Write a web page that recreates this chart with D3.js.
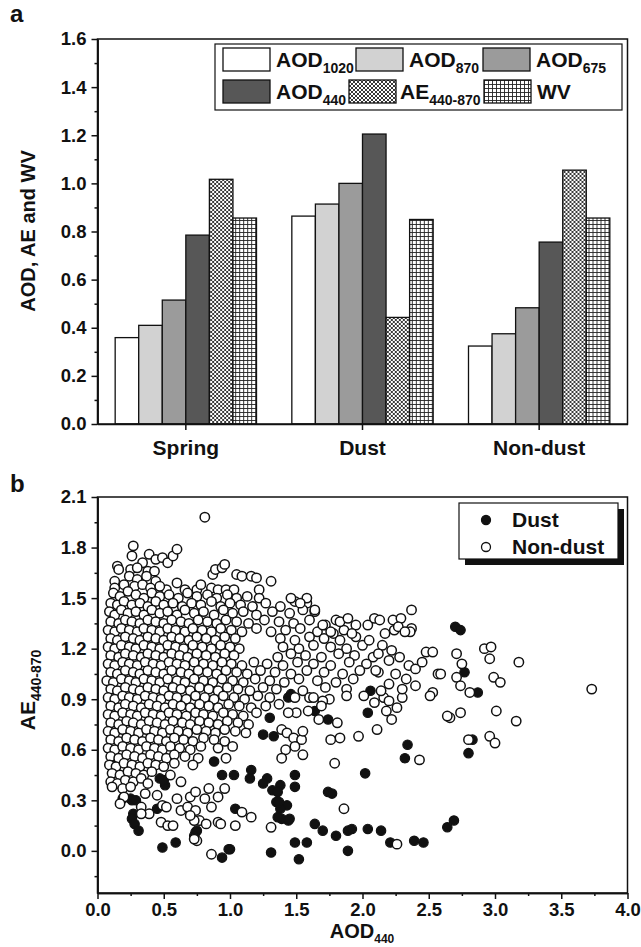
<!DOCTYPE html>
<html>
<head>
<meta charset="utf-8">
<script src="https://cdn.jsdelivr.net/npm/d3@7"></script>
<style>
  body { margin: 0; background: #fff; }
  text { font-family: "Liberation Sans", Arial, sans-serif; font-weight: bold; fill: #111; }
</style>
</head>
<body>
<div id="chart"></div>
<script>
// ---- panel a data
const categories = ["Spring", "Dust", "Non-dust"];
const seriesKeys = ["AOD1020", "AOD870", "AOD675", "AOD440", "AE", "WV"];
const aod1020 = [0.359, 0.864, 0.324];
const aod870 = [0.410, 0.914, 0.375];
const aod675 = [0.515, 1.000, 0.483];
const aod440 = [0.785, 1.205, 0.756];
const ae440870 = [1.017, 0.443, 1.055];
const wv = [0.856, 0.850, 0.856];
const barTicks = [0, 0.2, 0.4, 0.6, 0.8, 1.0, 1.2, 1.4, 1.6];
const barMinor = [0.1, 0.3, 0.5, 0.7, 0.9, 1.1, 1.3, 1.5];

// ---- panel b data [AOD440, AE440-870]
const scatterXTicks = [0, 0.5, 1.0, 1.5, 2.0, 2.5, 3.0, 3.5, 4.0];
const scatterXMinor = [0.25, 0.75, 1.25, 1.75, 2.25, 2.75, 3.25, 3.75];
const scatterYTicks = [0, 0.3, 0.6, 0.9, 1.2, 1.5, 1.8, 2.1];
const scatterYMinor = [-0.15, 0.15, 0.45, 0.75, 1.05, 1.35, 1.65, 1.95];

const dust = [
  [0.13,0.56],[0.14,0.55],[0.19,0.31],[0.25,0.31],[0.26,0.30],[0.29,0.30],[0.27,0.22],[0.26,0.19],
  [0.28,0.16],[0.31,0.12],[0.45,0.25],[0.47,0.43],[0.51,0.39],[0.50,0.42],[0.49,0.02],[0.59,0.05],
  [0.74,0.11],[0.75,0.12],[0.73,0.09],[0.88,0.53],[0.94,0.45],[1.03,0.45],[1.16,0.48],[1.15,0.43],
  [1.04,0.25],[1.00,0.01],[0.99,0.01],[0.94,-0.04],[1.31,-0.01],[1.30,0.79],[1.25,0.69],[1.33,0.68],
  [1.28,0.43],[1.25,0.40],[1.32,0.36],[1.38,0.39],[1.36,0.35],[1.49,0.45],[1.49,0.38],[1.35,0.29],
  [1.43,0.27],[1.38,0.25],[1.37,0.29],[1.39,0.19],[1.44,0.18],[1.36,0.20],[1.45,0.19],[1.64,0.16],
  [1.70,0.12],[1.80,0.09],[1.89,0.12],[1.92,0.13],[2.04,0.13],[2.14,0.12],[2.21,0.05],[2.39,0.06],
  [2.46,0.05],[1.49,0.05],[1.58,0.05],[1.52,-0.05],[1.89,0.00],[2.64,0.14],[2.69,0.18],[1.74,0.35],
  [1.77,0.34],[1.44,0.91],[1.46,0.93],[1.64,0.83],[1.74,0.78],[2.04,0.82],[2.06,0.95],[2.34,0.63],
  [2.32,0.55],[2.02,0.46],[2.70,1.33],[2.74,1.31],[2.77,1.06],[2.87,0.94],[2.83,0.66],[2.80,0.58]
];

const nonDust = [
  // top fringe
  [0.81,1.98],[0.27,1.81],[0.26,1.75],[0.34,1.71],[0.39,1.76],[0.44,1.73],[0.49,1.74],[0.53,1.71],
  [0.57,1.75],[0.60,1.79],[0.15,1.69],[0.16,1.67],[0.25,1.67],[0.30,1.68],[0.38,1.66],[0.43,1.66],
  [0.13,1.60],[0.24,1.63],[0.30,1.61],[0.37,1.63],[0.44,1.60],[0.52,1.55],[0.60,1.59],[0.66,1.55],
  [0.87,1.64],[0.89,1.67],[0.94,1.68],[0.96,1.70],[1.05,1.64],[1.09,1.63],[1.16,1.63],[1.20,1.62],
  [1.31,1.60],[0.75,1.55],[0.78,1.58],[0.86,1.56],[0.91,1.55],[0.97,1.55],[1.03,1.55],[1.22,1.55],
  [0.13,1.56],[0.20,1.58],[0.28,1.57],[0.34,1.58],[0.40,1.56],[0.47,1.57],
  // AE ~1.52
  [0.12,1.53],[0.17,1.51],[0.23,1.54],[0.29,1.52],[0.35,1.50],[0.41,1.53],[0.47,1.51],[0.54,1.52],
  [0.61,1.50],[0.68,1.53],[0.75,1.51],[0.83,1.52],[0.90,1.50],[0.98,1.52],[1.05,1.50],[1.13,1.51],[1.22,1.50],
  // AE ~1.47
  [0.10,1.47],[0.15,1.46],[0.20,1.48],[0.26,1.46],[0.32,1.47],[0.38,1.45],[0.44,1.48],[0.50,1.46],
  [0.57,1.47],[0.64,1.45],[0.71,1.47],[0.78,1.46],[0.86,1.48],[0.93,1.45],[1.00,1.47],[1.08,1.46],
  [1.17,1.45],[1.27,1.47],[1.38,1.45],[1.49,1.48],[1.58,1.47],
  // AE ~1.42
  [0.09,1.42],[0.13,1.40],[0.18,1.43],[0.23,1.41],[0.29,1.42],[0.35,1.40],[0.41,1.43],[0.47,1.41],
  [0.53,1.42],[0.60,1.40],[0.66,1.43],[0.73,1.41],[0.80,1.42],[0.88,1.40],[0.95,1.43],[1.02,1.41],
  [1.10,1.42],[1.20,1.40],[1.32,1.42],[1.45,1.41],[1.55,1.43],[1.64,1.42],
  // AE ~1.36
  [0.10,1.36],[0.16,1.35],[0.21,1.37],[0.26,1.36],[0.32,1.35],[0.38,1.37],[0.44,1.36],[0.50,1.35],
  [0.56,1.37],[0.63,1.36],[0.69,1.35],[0.76,1.37],[0.83,1.36],[0.90,1.35],[0.97,1.37],[1.05,1.36],
  [1.14,1.35],[1.26,1.37],[1.37,1.36],[1.48,1.35],[1.60,1.37],[1.72,1.34],[1.80,1.37],
  // AE ~1.31
  [0.08,1.31],[0.13,1.30],[0.18,1.32],[0.24,1.31],[0.30,1.30],[0.35,1.32],[0.41,1.31],[0.47,1.30],
  [0.53,1.32],[0.59,1.31],[0.66,1.30],[0.72,1.32],[0.79,1.31],[0.86,1.30],[0.93,1.32],[1.01,1.31],
  [1.09,1.30],[1.20,1.32],[1.31,1.30],[1.42,1.31],[1.53,1.32],[1.66,1.30],[1.78,1.29],[1.86,1.31],
  // AE ~1.26
  [0.10,1.26],[0.15,1.25],[0.21,1.27],[0.27,1.26],[0.32,1.25],[0.38,1.27],[0.44,1.26],[0.50,1.25],
  [0.56,1.27],[0.62,1.26],[0.69,1.25],[0.75,1.27],[0.82,1.26],[0.89,1.25],[0.96,1.27],[1.04,1.26],
  [1.38,1.26],[1.49,1.25],[1.60,1.27],[1.71,1.26],[1.83,1.25],[1.95,1.27],
  // AE ~1.21
  [0.08,1.21],[0.13,1.20],[0.18,1.22],[0.24,1.21],[0.29,1.20],[0.35,1.22],[0.41,1.21],[0.47,1.20],
  [0.53,1.22],[0.59,1.21],[0.65,1.20],[0.72,1.22],[0.79,1.21],[0.86,1.20],[0.93,1.22],[1.00,1.21],
  [1.07,1.20],[1.40,1.21],[1.52,1.20],[1.63,1.22],[1.76,1.21],[1.88,1.20],[2.00,1.22],
  // AE ~1.16
  [0.10,1.16],[0.16,1.15],[0.21,1.17],[0.27,1.16],[0.33,1.15],[0.38,1.17],[0.44,1.16],[0.50,1.15],
  [0.56,1.17],[0.62,1.16],[0.68,1.15],[0.75,1.17],[0.82,1.16],[0.89,1.15],[0.96,1.17],[1.03,1.16],
  [1.36,1.15],[1.46,1.17],[1.57,1.16],[1.69,1.15],[1.82,1.17],[1.94,1.16],[2.08,1.15],
  // AE ~1.11
  [0.08,1.11],[0.13,1.10],[0.19,1.12],[0.24,1.11],[0.30,1.10],[0.36,1.12],[0.42,1.11],[0.48,1.10],
  [0.54,1.12],[0.60,1.11],[0.66,1.10],[0.73,1.12],[0.80,1.11],[0.87,1.10],[0.94,1.12],[1.01,1.11],
  [1.09,1.10],[1.18,1.12],[1.28,1.11],[1.40,1.10],[1.51,1.12],[1.63,1.11],[1.76,1.10],[1.90,1.12],[2.03,1.11],
  // AE ~1.06
  [0.10,1.06],[0.15,1.05],[0.21,1.07],[0.27,1.06],[0.32,1.05],[0.38,1.07],[0.44,1.06],[0.50,1.05],
  [0.56,1.07],[0.63,1.06],[0.69,1.05],[0.76,1.07],[0.83,1.06],[0.90,1.05],[0.97,1.07],[1.05,1.06],
  [1.13,1.05],[1.23,1.07],[1.34,1.06],[1.46,1.05],[1.58,1.07],[1.71,1.06],[1.85,1.05],[1.98,1.07],[2.12,1.06],
  // AE ~1.01
  [0.07,1.01],[0.12,1.00],[0.18,1.02],[0.24,1.01],[0.29,1.00],[0.35,1.02],[0.41,1.01],[0.47,1.00],
  [0.53,1.02],[0.60,1.01],[0.66,1.00],[0.73,1.02],[0.80,1.01],[0.87,1.00],[0.94,1.02],[1.02,1.01],
  [1.10,1.00],[1.19,1.02],[1.30,1.01],[1.41,1.00],[1.52,1.02],[1.66,1.01],[1.80,1.00],[1.93,1.02],
  // AE ~0.96
  [0.10,0.96],[0.15,0.95],[0.21,0.97],[0.27,0.96],[0.32,0.95],[0.38,0.97],[0.44,0.96],[0.50,0.95],
  [0.57,0.97],[0.63,0.96],[0.70,0.95],[0.77,0.97],[0.84,0.96],[0.91,0.95],[0.98,0.97],[1.06,0.96],
  [1.15,0.95],[1.25,0.97],[1.35,0.96],[1.55,0.95],[1.72,0.97],[1.88,0.96],
  // AE ~0.91
  [0.08,0.91],[0.13,0.90],[0.19,0.92],[0.24,0.91],[0.30,0.90],[0.36,0.92],[0.42,0.91],[0.48,0.90],
  [0.54,0.92],[0.60,0.91],[0.67,0.90],[0.74,0.92],[0.81,0.91],[0.88,0.90],[0.95,0.92],[1.03,0.91],
  [1.11,0.90],[1.21,0.92],[1.30,0.91],[1.60,0.91],[1.75,0.90],
  // AE ~0.86
  [0.10,0.86],[0.16,0.85],[0.21,0.87],[0.27,0.86],[0.33,0.85],[0.39,0.87],[0.45,0.86],[0.51,0.85],
  [0.57,0.87],[0.63,0.86],[0.70,0.85],[0.77,0.87],[0.84,0.86],[0.91,0.85],[0.99,0.87],[1.07,0.86],
  [1.16,0.85],[1.27,0.86],[1.37,0.87],
  // AE ~0.81
  [0.08,0.81],[0.13,0.80],[0.19,0.82],[0.25,0.81],[0.30,0.80],[0.36,0.82],[0.42,0.81],[0.48,0.80],
  [0.54,0.82],[0.60,0.81],[0.67,0.80],[0.74,0.82],[0.80,0.81],[0.87,0.80],[0.95,0.82],[1.02,0.81],
  [1.10,0.80],[1.20,0.82],
  // AE ~0.76
  [0.10,0.76],[0.16,0.75],[0.22,0.77],[0.27,0.76],[0.33,0.75],[0.39,0.77],[0.45,0.76],[0.51,0.75],
  [0.57,0.77],[0.64,0.76],[0.70,0.75],[0.77,0.77],[0.84,0.76],[0.91,0.75],[0.98,0.77],[1.06,0.76],[1.14,0.75],
  // AE ~0.71
  [0.08,0.71],[0.13,0.70],[0.19,0.72],[0.25,0.71],[0.31,0.70],[0.37,0.72],[0.43,0.71],[0.49,0.70],
  [0.55,0.72],[0.61,0.71],[0.68,0.70],[0.75,0.72],[0.82,0.71],[0.89,0.70],[0.96,0.72],[1.04,0.71],[1.12,0.70],
  // AE ~0.66
  [0.10,0.66],[0.16,0.65],[0.22,0.67],[0.28,0.66],[0.34,0.65],[0.40,0.67],[0.46,0.66],[0.52,0.65],
  [0.58,0.67],[0.65,0.66],[0.72,0.65],[0.80,0.67],[0.88,0.66],[0.96,0.65],
  // AE ~0.61
  [0.08,0.61],[0.13,0.60],[0.19,0.62],[0.25,0.61],[0.31,0.60],[0.37,0.62],[0.43,0.61],[0.49,0.60],
  [0.55,0.62],[0.62,0.61],[0.70,0.60],[0.78,0.62],[0.91,0.61],[1.02,0.62],
  // AE ~0.56
  [0.10,0.56],[0.16,0.55],[0.22,0.57],[0.28,0.56],[0.34,0.55],[0.40,0.57],[0.46,0.56],[0.52,0.55],
  [0.58,0.57],[0.66,0.56],[0.76,0.55],[0.97,0.55],
  // AE ~0.51
  [0.09,0.51],[0.14,0.50],[0.20,0.52],[0.26,0.51],[0.32,0.50],[0.38,0.52],[0.44,0.51],[0.50,0.50],
  [0.58,0.52],[0.72,0.51],
  // AE ~0.46 and below
  [0.11,0.46],[0.17,0.45],[0.23,0.47],[0.29,0.46],[0.35,0.45],[0.41,0.47],[0.55,0.45],
  [0.10,0.41],[0.15,0.40],[0.21,0.42],[0.27,0.41],[0.33,0.43],[0.38,0.40],[0.63,0.41],
  [0.11,0.38],[0.19,0.37],[0.25,0.38],[0.20,0.32],[0.33,0.26],[0.39,0.22],[0.33,0.22],[0.49,0.27],
  [0.52,0.26],[0.48,0.17],[0.53,0.15],[0.57,0.15],[0.63,0.24],[0.68,0.26],[0.74,0.24],[0.77,0.18],
  [0.73,0.18],[0.70,0.21],[0.82,0.16],[0.91,0.17],[0.93,0.16],[0.75,0.06],[0.73,0.07],[0.86,-0.02],
  [0.86,0.26],[1.04,0.15],[1.09,0.23],[1.16,0.20],[1.31,0.14],[0.60,0.31],[0.70,0.32],[0.74,0.35],
  [0.81,0.31],[0.84,0.37],[0.91,0.32],[0.96,0.37],[1.86,0.25],[2.26,0.04],[0.36,0.34],[0.45,0.33],[0.17,0.28],
  // right-hand cloud
  [1.46,1.50],[1.58,1.50],[1.53,1.47],[1.64,1.43],[2.37,1.43],[1.83,1.36],[1.89,1.38],[1.95,1.34],
  [2.04,1.34],[2.09,1.38],[2.13,1.37],[2.23,1.37],[2.29,1.38],[2.37,1.32],[2.36,1.30],[1.70,1.34],
  [1.76,1.30],[1.92,1.29],[2.48,1.18],[2.53,1.18],[2.57,1.05],[2.71,1.17],[2.75,1.11],[2.71,1.03],
  [2.74,0.98],[2.81,0.94],[2.92,1.20],[2.97,1.21],[2.96,1.14],[3.18,1.12],[2.99,1.03],[3.04,1.00],
  [3.73,0.96],[2.66,0.79],[2.74,0.82],[3.01,0.83],[3.16,0.77],[2.80,0.66],[2.96,0.68],[3.00,0.64],
  [2.53,0.94],[2.59,1.05],[2.43,0.54],[2.17,1.29],[2.24,1.31],[2.27,1.33],[2.32,1.30],
  [1.49,0.91],[1.63,0.91],[1.70,0.89],[1.69,0.86],[1.59,0.83],[1.50,0.82],[1.44,0.82],[1.67,0.78],
  [1.81,0.76],[1.88,0.92],[2.01,0.92],[2.09,0.88],[2.16,0.91],[2.20,0.89],[2.18,0.83],[2.30,0.91],
  [2.51,0.92],[2.64,0.80],[2.11,0.72],[1.97,0.68],[1.83,0.67],[1.76,0.66],[1.39,0.72],[1.43,0.70],
  [1.48,0.67],[1.54,0.66],[1.55,0.71],[1.49,0.62],[1.42,0.60],[1.39,0.55],[1.55,0.57],[1.79,0.52],
  [2.15,1.22],[2.22,1.19],[2.12,1.17],[2.20,1.13],[2.28,1.15],[2.35,1.10],[2.10,1.07],[2.25,1.05],
  [2.33,1.02],[2.40,1.08],[2.40,0.98],[2.30,0.96],[2.20,0.99],[2.26,0.85],[2.22,0.78],[2.14,0.95],
  [2.45,1.12],[2.05,1.25]
];

const svg = d3.select("#chart").append("svg")
    .attr("width", 641)
    .attr("height", 947);

const defs = svg.append("defs");
const pAE = defs.append("pattern").attr("id", "hatchAE")
    .attr("patternUnits", "userSpaceOnUse").attr("width", 4).attr("height", 4);
pAE.append("rect").attr("width", 4).attr("height", 4).attr("fill", "#fff");
pAE.append("path").attr("d", "M0,0L4,4M4,0L0,4").attr("stroke", "#222").attr("stroke-width", 0.9);
const pWV = defs.append("pattern").attr("id", "hatchWV")
    .attr("patternUnits", "userSpaceOnUse").attr("width", 4).attr("height", 4);
pWV.append("rect").attr("width", 4).attr("height", 4).attr("fill", "#fff");
pWV.append("path").attr("d", "M0,0.5H4M0.5,0V4").attr("stroke", "#222").attr("stroke-width", 0.9);

const fills = ["#ffffff", "#d2d2d2", "#9b9b9b", "#575757", "url(#hatchAE)", "url(#hatchWV)"];

function styleAxis(g, size) {
    g.attr("font-family", null).attr("font-size", null);
    g.selectAll("path,line").attr("stroke", "#111").attr("stroke-width", 1.5);
    g.selectAll("text").attr("font-size", size).attr("fill", "#111");
}

function subLabel(t, main, sub, size, subSize) {
    t.append("tspan").attr("font-size", size).text(main);
    t.append("tspan").attr("font-size", subSize).attr("dy", subSize * 0.4).text(sub);
}

// ================= panel a =================
const xa = d3.scaleBand().domain(categories).range([97.5, 627.5]).paddingInner(0.2).paddingOuter(0.1);
const xs = d3.scaleBand().domain(seriesKeys).range([0, xa.bandwidth()]);
const ya = d3.scaleLinear().domain([0, 1.6]).range([424, 39]);

const barRows = categories.map((c, i) => ({
    cat: c,
    vals: [aod1020[i], aod870[i], aod675[i], aod440[i], ae440870[i], wv[i]]
}));

svg.append("g").selectAll("g")
    .data(barRows)
    .enter().append("g")
    .attr("transform", d => "translate(" + xa(d.cat) + ",0)")
    .selectAll("rect")
    .data(d => d.vals.map((v, j) => ({key: seriesKeys[j], v: v, j: j})))
    .enter().append("rect")
    .attr("x", d => xs(d.key))
    .attr("y", d => ya(d.v))
    .attr("width", xs.bandwidth())
    .attr("height", d => ya(0) - ya(d.v))
    .attr("fill", d => fills[d.j])
    .attr("stroke", "#111")
    .attr("stroke-width", 1.3);

// frame
svg.append("rect").attr("x", 97.5).attr("y", 39).attr("width", 530).attr("height", 385)
    .attr("fill", "none").attr("stroke", "#111").attr("stroke-width", 1.5);

const yAxisA = svg.append("g").attr("transform", "translate(97.5,0)")
    .call(d3.axisLeft(ya).tickValues(barTicks).tickFormat(d3.format(".1f")).tickSize(6).tickSizeOuter(0).tickPadding(5));
styleAxis(yAxisA, 18.5);
const yMinorA = svg.append("g").attr("transform", "translate(97.5,0)")
    .call(d3.axisLeft(ya).tickValues(barMinor).tickFormat("").tickSize(3).tickSizeOuter(0));
styleAxis(yMinorA, 18);

const xAxisA = svg.append("g").attr("transform", "translate(0,424)")
    .call(d3.axisBottom(xa).tickSize(6).tickSizeOuter(0).tickPadding(10));
styleAxis(xAxisA, 21);

svg.append("text").attr("transform", "translate(35,231) rotate(-90)")
    .attr("text-anchor", "middle").attr("font-size", 20).text("AOD, AE and WV");
svg.append("text").attr("x", 10).attr("y", 22).attr("font-size", 24).text("a");

// legend a
const legA = svg.append("g");
legA.append("rect").attr("x", 215).attr("y", 44).attr("width", 407).attr("height", 66)
    .attr("fill", "#fff").attr("stroke", "#111").attr("stroke-width", 1.2);
const legItems = [
    {main: "AOD", sub: "1020", sx: 223, sy: 48, tx: 276},
    {main: "AOD", sub: "870", sx: 356, sy: 48, tx: 409},
    {main: "AOD", sub: "675", sx: 483, sy: 48, tx: 536},
    {main: "AOD", sub: "440", sx: 223, sy: 80, tx: 276},
    {main: "AE", sub: "440-870", sx: 349, sy: 80, tx: 400},
    {main: "WV", sub: "", sx: 484, sy: 80, tx: 537}
];
legItems.forEach((it, j) => {
    legA.append("rect").attr("x", it.sx).attr("y", it.sy).attr("width", 47).attr("height", 23)
        .attr("fill", fills[j]).attr("stroke", "#111").attr("stroke-width", 1.3);
    const t = legA.append("text").attr("x", it.tx).attr("y", it.sy + 19);
    subLabel(t, it.main, it.sub, 21, 14);
});

// ================= panel b =================
const xb = d3.scaleLinear().domain([0, 4]).range([97.5, 627.5]);
const yb = d3.scaleLinear().domain([-0.25, 2.1]).range([893, 497]);

svg.append("g").selectAll("circle")
    .data(dust)
    .enter().append("circle")
    .attr("cx", d => xb(d[0]))
    .attr("cy", d => yb(d[1]))
    .attr("r", 4.7)
    .attr("fill", "#111")
    .attr("stroke", "#111")
    .attr("stroke-width", 1.2);

svg.append("g").selectAll("circle")
    .data(nonDust)
    .enter().append("circle")
    .attr("cx", d => xb(d[0]))
    .attr("cy", d => yb(d[1]))
    .attr("r", 4.7)
    .attr("fill", "#fff")
    .attr("stroke", "#111")
    .attr("stroke-width", 1.5);

svg.append("rect").attr("x", 97.5).attr("y", 497).attr("width", 530).attr("height", 396)
    .attr("fill", "none").attr("stroke", "#111").attr("stroke-width", 1.5);

const yAxisB = svg.append("g").attr("transform", "translate(97.5,0)")
    .call(d3.axisLeft(yb).tickValues(scatterYTicks).tickFormat(d3.format(".1f")).tickSize(6).tickSizeOuter(0).tickPadding(5));
styleAxis(yAxisB, 18.5);
const yMinorB = svg.append("g").attr("transform", "translate(97.5,0)")
    .call(d3.axisLeft(yb).tickValues(scatterYMinor).tickFormat("").tickSize(3).tickSizeOuter(0));
styleAxis(yMinorB, 18);

const xAxisB = svg.append("g").attr("transform", "translate(0,893)")
    .call(d3.axisBottom(xb).tickValues(scatterXTicks).tickFormat(d3.format(".1f")).tickSize(6).tickSizeOuter(0).tickPadding(4));
styleAxis(xAxisB, 18.5);
const xMinorB = svg.append("g").attr("transform", "translate(0,893)")
    .call(d3.axisBottom(xb).tickValues(scatterXMinor).tickFormat("").tickSize(3).tickSizeOuter(0));
styleAxis(xMinorB, 18);

const xt = svg.append("text").attr("x", 362).attr("y", 938).attr("text-anchor", "middle");
subLabel(xt, "AOD", "440", 20, 12);
const yt = svg.append("text").attr("transform", "translate(35,690) rotate(-90)").attr("text-anchor", "middle");
subLabel(yt, "AE", "440-870", 21, 14);
svg.append("text").attr("x", 10).attr("y", 492).attr("font-size", 24).text("b");

// legend b
const legB = svg.append("g");
legB.append("rect").attr("x", 465).attr("y", 509).attr("width", 159).attr("height", 56).attr("fill", "#111");
legB.append("rect").attr("x", 459).attr("y", 503).attr("width", 159).attr("height", 56)
    .attr("fill", "#fff").attr("stroke", "#111").attr("stroke-width", 1.2);
[["Dust", "#111", 520], ["Non-dust", "#fff", 547]].forEach(r => {
    legB.append("circle").attr("cx", 486).attr("cy", r[2]).attr("r", 4.5)
        .attr("fill", r[1]).attr("stroke", "#111").attr("stroke-width", 1.3);
    legB.append("text").attr("x", 512).attr("y", r[2] + 7).attr("font-size", 21).text(r[0]);
});
</script>
</body>
</html>
